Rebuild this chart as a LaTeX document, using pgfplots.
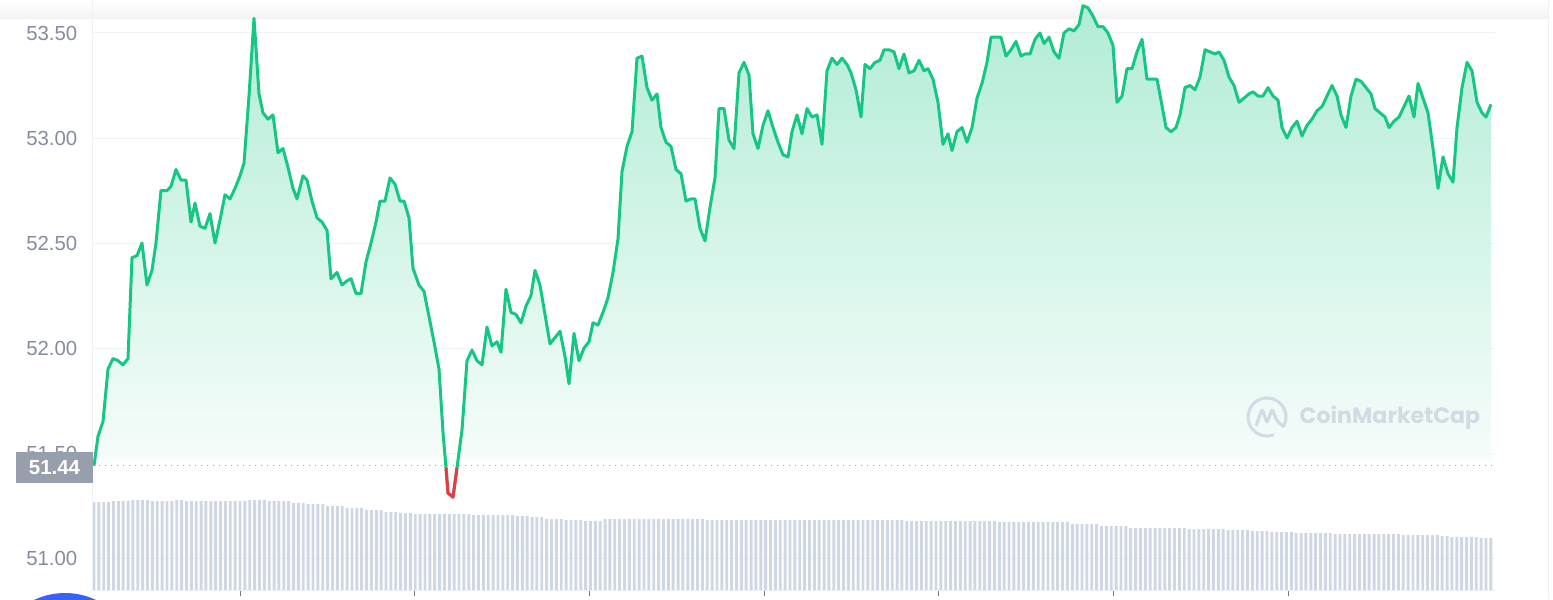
\documentclass[border=0pt]{standalone}
\usepackage{fontspec}
\setmainfont{Liberation Sans}
\newfontfamily\wmfont{Poppins}
\usepackage{pgfplots}
\usepackage{pgfplotstable}
\pgfplotsset{compat=1.18}

\definecolor{cmcgreen}{HTML}{16C784}
\definecolor{cmcred}{HTML}{EA3943}
\definecolor{gridc}{HTML}{EFF2F5}
\definecolor{labelc}{HTML}{858CA0}
\definecolor{barc}{HTML}{CFD6E4}
\definecolor{boxc}{HTML}{989FAC}
\definecolor{wmc}{HTML}{D3D9E5}
\definecolor{cmcblue}{HTML}{3861FB}

% price, x = time (chart pixels), y = USD
\pgfplotstableread{
x y
94 51.44
98 51.58
103 51.65
108 51.90
113 51.95
118 51.94
123 51.92
128 51.95
132 52.43
137 52.44
142 52.50
147 52.30
152 52.37
156 52.50
161 52.75
167 52.75
171 52.77
176 52.85
181 52.80
186 52.80
191 52.60
195 52.69
200 52.58
205 52.57
210 52.64
215 52.50
220 52.61
225 52.73
230 52.71
235 52.76
240 52.82
244 52.88
249 53.20
254 53.57
259 53.21
263 53.12
268 53.09
273 53.11
278 52.93
283 52.95
288 52.86
293 52.76
297 52.71
303 52.82
307 52.80
312 52.70
317 52.62
322 52.60
327 52.56
331 52.33
337 52.36
342 52.30
347 52.32
351 52.33
356 52.26
361 52.26
366 52.41
371 52.50
376 52.60
380 52.70
385 52.70
390 52.81
395 52.78
400 52.70
404 52.70
409 52.62
413 52.38
419 52.30
424 52.27
429 52.15
434 52.03
439 51.90
443 51.60
446 51.43
448 51.31
453 51.29
457 51.43
462 51.61
467 51.94
472 51.99
477 51.94
482 51.92
487 52.10
492 52.01
497 52.03
501 51.98
506 52.28
511 52.17
516 52.16
521 52.12
526 52.20
531 52.25
535 52.37
540 52.30
545 52.16
550 52.02
555 52.05
560 52.08
565 51.96
569 51.83
574 52.07
579 51.94
584 52.00
589 52.03
593 52.12
598 52.11
603 52.17
608 52.24
613 52.36
618 52.52
622 52.84
627 52.96
632 53.03
637 53.38
642 53.39
647 53.24
652 53.18
657 53.21
661 53.05
666 52.98
671 52.96
676 52.85
681 52.83
686 52.70
691 52.71
695 52.71
700 52.57
705 52.51
710 52.67
715 52.81
719 53.14
724 53.14
729 52.99
734 52.95
739 53.31
744 53.36
749 53.30
753 53.02
758 52.95
763 53.06
768 53.13
773 53.05
778 52.98
783 52.92
788 52.91
792 53.03
797 53.11
802 53.02
807 53.14
812 53.10
817 53.11
822 52.97
827 53.32
832 53.38
837 53.35
842 53.38
847 53.35
851 53.31
856 53.23
861 53.10
865 53.35
870 53.33
875 53.36
880 53.37
884 53.42
889 53.42
894 53.41
899 53.33
904 53.40
909 53.31
914 53.32
919 53.37
924 53.32
928 53.33
933 53.28
938 53.17
943 52.97
948 53.02
952 52.94
957 53.03
962 53.05
967 52.98
972 53.05
977 53.19
982 53.26
987 53.36
991 53.48
996 53.48
1001 53.48
1006 53.39
1011 53.42
1016 53.46
1021 53.39
1025 53.40
1030 53.40
1035 53.47
1040 53.50
1044 53.45
1049 53.48
1054 53.41
1059 53.38
1064 53.50
1069 53.52
1074 53.51
1079 53.54
1083 53.63
1088 53.62
1093 53.58
1098 53.53
1103 53.53
1108 53.50
1113 53.44
1117 53.17
1122 53.20
1127 53.33
1132 53.33
1137 53.41
1142 53.47
1147 53.28
1152 53.28
1157 53.28
1161 53.18
1166 53.05
1171 53.03
1176 53.05
1180 53.11
1185 53.24
1190 53.25
1195 53.23
1200 53.29
1205 53.42
1210 53.41
1215 53.40
1219 53.41
1224 53.37
1229 53.29
1234 53.25
1239 53.17
1244 53.19
1249 53.21
1253 53.22
1258 53.20
1263 53.20
1268 53.24
1273 53.20
1278 53.18
1282 53.05
1287 53.00
1292 53.05
1297 53.08
1302 53.01
1307 53.06
1312 53.09
1317 53.13
1322 53.15
1327 53.20
1332 53.25
1337 53.20
1341 53.11
1346 53.05
1351 53.20
1356 53.28
1361 53.27
1366 53.24
1371 53.21
1375 53.14
1380 53.12
1385 53.10
1389 53.05
1394 53.08
1399 53.10
1404 53.15
1409 53.20
1414 53.10
1418 53.26
1423 53.19
1428 53.12
1433 52.95
1438 52.76
1443 52.91
1448 52.83
1453 52.79
1457 53.05
1462 53.24
1467 53.36
1472 53.32
1477 53.17
1482 53.12
1486 53.10
1491 53.16
}\price

% volume bars, one per 5-minute step (arbitrary units)
\pgfplotstableread[row sep=\\]{
h\\
88\\88\\88\\88\\89\\89\\89\\89\\90\\90\\90\\90\\
89\\89\\89\\89\\89\\90\\90\\
89\\89\\89\\89\\89\\89\\89\\89\\89\\89\\89\\89\\89\\
90\\90\\90\\90\\89\\89\\89\\89\\89\\
87\\87\\87\\86\\86\\86\\86\\84\\84\\84\\84\\
82\\82\\82\\82\\80\\80\\80\\80\\78\\78\\78\\77\\77\\77\\
76\\76\\76\\76\\76\\76\\76\\76\\76\\76\\76\\76\\
75\\75\\75\\75\\75\\75\\75\\75\\75\\74\\74\\74\\73\\73\\73\\
71\\71\\71\\71\\70\\70\\70\\70\\69\\69\\69\\69\\
71\\71\\71\\71\\71\\71\\71\\71\\71\\71\\71\\71\\71\\71\\71\\71\\71\\71\\71\\71\\71\\
70\\70\\70\\70\\70\\70\\70\\70\\70\\70\\70\\70\\70\\70\\70\\70\\70\\70\\70\\70\\
70\\70\\70\\70\\70\\70\\70\\70\\70\\70\\70\\70\\70\\70\\70\\70\\70\\70\\70\\70\\70\\
69\\69\\69\\69\\69\\69\\69\\69\\69\\69\\69\\69\\69\\69\\69\\69\\69\\69\\69\\
68\\68\\68\\68\\68\\68\\68\\68\\68\\68\\68\\68\\68\\68\\68\\
66\\66\\66\\66\\66\\66\\64\\64\\64\\64\\64\\64\\
62\\62\\62\\62\\62\\62\\62\\62\\62\\62\\62\\62\\
61\\61\\61\\61\\61\\61\\61\\61\\60\\60\\60\\60\\60\\
59\\59\\59\\59\\58\\58\\58\\58\\58\\
57\\57\\57\\57\\57\\57\\57\\57\\
56\\56\\56\\56\\56\\56\\56\\56\\56\\56\\56\\56\\56\\56\\
55\\55\\55\\55\\55\\55\\55\\55\\54\\54\\
53\\53\\53\\53\\53\\53\\52\\52\\52\\
}\volume

\begin{document}
\begin{tikzpicture}
\useasboundingbox (0,0) rectangle (155.3mm,59.9mm);

% header shadow band
\begin{scope}[x=0.1mm,y=-0.1mm,yshift=59.9mm]
  \shade[top color=white, bottom color=gray!9] (0,0) rectangle (1548,18);
\end{scope}

\begin{axis}[
  at={(9.3mm,0.9mm)}, anchor=south west,
  scale only axis, width=140.2mm, height=59mm,
  xmin=93, xmax=1495, ymin=50.848, ymax=53.657,
  axis x line*=bottom, axis y line*=left,
  axis line style={gridc, line width=0.1mm},
  ytick={51,51.5,52,52.5,53,53.5},
  yticklabel style={font=\fontsize{5.8}{6}\selectfont, text=labelc, inner sep=0pt, xshift=-0.9mm,
    /pgf/number format/fixed, /pgf/number format/fixed zerofill,
    /pgf/number format/precision=2, /pgf/number format/assume math mode=true},
  ymajorgrids, grid style={gridc, line width=0.1mm},
  ytick style={draw=none},
  xtick={240,414.67,589.33,764,938.67,1113.33,1288},
  xticklabels={,,,,,,},
  tick align=outside, major tick length=0.6mm,
  xtick style={color=labelc!85!black, line width=0.1mm},
]
\addplot[draw=none, top color=cmcgreen!36!white, bottom color=cmcgreen!2!white, fill opacity=0.92, forget plot]
  table[x=x,y=y]{\price} -- (axis cs:1491,51.47) -- (axis cs:94,51.47) -- cycle;
\addplot[cmcgreen, line width=0.3mm, line join=round, mark=none] table[x=x,y=y]{\price};
\addplot[color=gray!75, line width=0.15mm, dash pattern=on 0.15mm off 0.45mm, forget plot] coordinates {(93,51.44) (1495,51.44)};
\addplot[cmcred, line width=0.3mm, line join=round, mark=none] coordinates {(446,51.43) (448,51.31) (453,51.29) (457,51.43)};
\end{axis}

\begin{axis}[
  at={(9.3mm,0.9mm)}, anchor=south west,
  scale only axis, width=140.2mm, height=59mm,
  xmin=-0.205, xmax=287.85, ymin=0, ymax=590,
  hide axis,
]
\addplot[ybar, bar width=0.6, fill=barc, draw=none] table[x expr=\coordindex, y=h]{\volume};
\end{axis}

\begin{scope}[x=0.1mm,y=-0.1mm,yshift=59.9mm]
  % current price tag
  \fill[boxc] (16,452) rectangle (93,483);
  \node[text=white, font=\fontsize{5.8}{6}\selectfont\bfseries, inner sep=0pt] at (54.5,467.5) {51.44};
  % watermark
  \draw[wmc, line width=0.3mm] ([shift={(70:19)}]1267,417) arc[start angle=70, end angle=390, radius=19];
  \draw[wmc, line width=0.3mm, rounded corners=0.2mm, line join=round] (1256,426) -- (1262,409) -- (1267,423) -- (1272,409) -- (1277,421) -- (1284,427);
  \node[anchor=west, text=wmc, font=\wmfont\fontsize{6.3}{7}\selectfont\bfseries, inner sep=0pt] at (1299,418) {CoinMarketCap};
  % panel border and button
  \draw[gridc, line width=0.1mm] (1548,0) -- (1548,599);
  \fill[cmcblue] (65,665) circle[radius=72];
\end{scope}
\end{tikzpicture}
\end{document}
